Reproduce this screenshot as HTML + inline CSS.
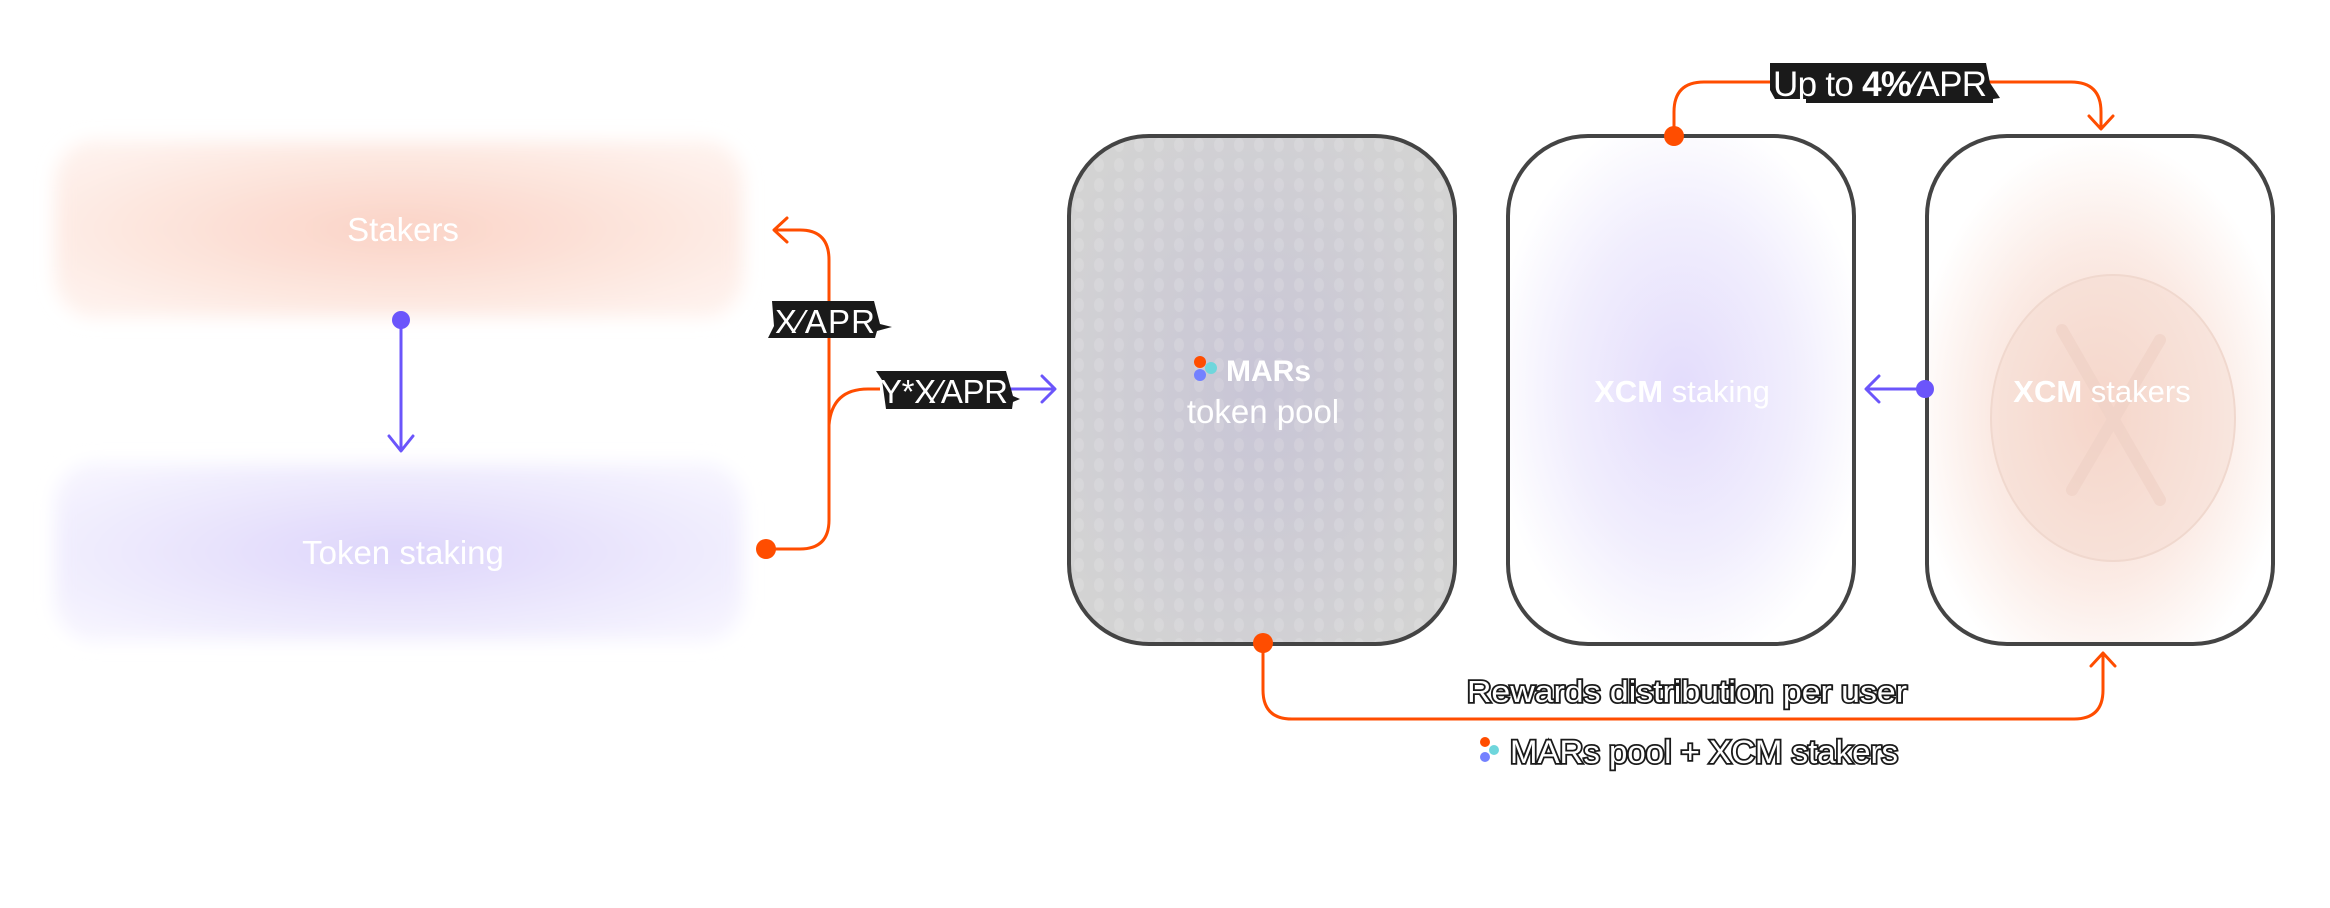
<!DOCTYPE html>
<html><head><meta charset="utf-8"><style>
html,body{margin:0;padding:0;background:#fff;}
svg{display:block;font-family:"Liberation Sans",sans-serif;}
</style></head><body>
<svg width="2330" height="908" viewBox="0 0 2330 908" xmlns="http://www.w3.org/2000/svg">
<defs>
<filter id="blur" x="-20%" y="-40%" width="140%" height="180%"><feGaussianBlur stdDeviation="9"/></filter>
<radialGradient id="gO" cx="50%" cy="50%" r="60%"><stop offset="0" stop-color="#fbd3c6"/><stop offset="1" stop-color="#fef1ec"/></radialGradient>
<radialGradient id="gP" cx="50%" cy="50%" r="60%"><stop offset="0" stop-color="#ddd5fb"/><stop offset="1" stop-color="#f5f3fe"/></radialGradient>
<radialGradient id="gB2" cx="50%" cy="50%" r="55%"><stop offset="0" stop-color="#e3dcfc"/><stop offset="0.6" stop-color="#f1eefd"/><stop offset="1" stop-color="#ffffff"/></radialGradient>
<radialGradient id="gB3" cx="50%" cy="55%" r="55%"><stop offset="0" stop-color="#f6d3c6"/><stop offset="0.6" stop-color="#fbebe5"/><stop offset="1" stop-color="#ffffff"/></radialGradient>
<radialGradient id="gB1" cx="50%" cy="50%" r="60%"><stop offset="0" stop-color="#c8c5d6"/><stop offset="1" stop-color="#d3d3d3"/></radialGradient>
<pattern id="dots" x="1069" y="135" width="20" height="20" patternUnits="userSpaceOnUse"><ellipse cx="10" cy="10" rx="5" ry="7" fill="#ffffff" fill-opacity="0.13"/></pattern>
<clipPath id="c1"><rect x="1069" y="136" width="386" height="508" rx="80"/></clipPath>
</defs>

<rect x="55" y="141" width="688" height="176" rx="40" fill="url(#gO)" filter="url(#blur)"/>
<rect x="55" y="464" width="688" height="176" rx="40" fill="url(#gP)" filter="url(#blur)"/>
<text x="403" y="241" font-size="33" fill="#fff" text-anchor="middle">Stakers</text>
<text x="403" y="564" font-size="33" fill="#fff" text-anchor="middle">Token staking</text>

<line x1="401" y1="320" x2="401" y2="449" stroke="#6b55fb" stroke-width="3"/>
<circle cx="401" cy="320" r="9" fill="#6b55fb"/>
<polyline points="389,436 401,451 413,436" fill="none" stroke="#6b55fb" stroke-width="3" stroke-linecap="round" stroke-linejoin="round"/>

<path d="M766,549 H800 Q829,549 829,520 V260 Q829,230 800,230 H774" fill="none" stroke="#ff4d00" stroke-width="3"/>
<polyline points="787,218 774,230 787,242" fill="none" stroke="#ff4d00" stroke-width="3" stroke-linecap="round" stroke-linejoin="round"/>
<circle cx="766" cy="549" r="10" fill="#ff4d00"/>
<path d="M829,425 Q832,389 868,389 H880" fill="none" stroke="#ff4d00" stroke-width="3"/>
<line x1="1000" y1="389" x2="1054" y2="389" stroke="#6b55fb" stroke-width="3"/>
<polyline points="1042,376 1055,389 1042,402" fill="none" stroke="#6b55fb" stroke-width="3" stroke-linecap="round" stroke-linejoin="round"/>

<polygon points="772,301 874,301 880,324 892,327 877,331 875,338 768,338 774,326" fill="#1a1a1a"/>
<text x="775" y="333" font-size="33" fill="#fff" textLength="100">X⁄APR</text>
<polygon points="876,371 1006,371 1013,396 1020,399 1013,402 1012,409 886,409 882,380" fill="#1a1a1a"/>
<text x="880" y="403" font-size="33" fill="#fff" textLength="128">Y*X⁄APR</text>

<rect x="1069" y="136" width="386" height="508" rx="80" fill="url(#gB1)"/>
<rect x="1069" y="136" width="386" height="508" fill="url(#dots)" clip-path="url(#c1)"/>
<rect x="1069" y="136" width="386" height="508" rx="80" fill="none" stroke="#444" stroke-width="4"/>
<circle cx="1200" cy="362" r="6" fill="#ff4d00"/>
<circle cx="1211" cy="368" r="6" fill="#6fd6dc"/>
<circle cx="1200" cy="375" r="6" fill="#7381ff"/>
<text x="1226" y="381" font-size="30" fill="#fff" font-weight="bold">MARs</text>
<text x="1263" y="423" font-size="33" fill="#fff" text-anchor="middle">token pool</text>

<rect x="1508" y="136" width="346" height="508" rx="80" fill="url(#gB2)" stroke="#444" stroke-width="4"/>
<text x="1682" y="402" font-size="31" fill="#fff" text-anchor="middle"><tspan font-weight="bold">XCM</tspan> staking</text>

<rect x="1927" y="136" width="346" height="508" rx="80" fill="url(#gB3)" stroke="#444" stroke-width="4"/>
<ellipse cx="2113" cy="418" rx="122" ry="143" fill="#f3d9cf" fill-opacity="0.45" stroke="#f0d8ce" stroke-width="2"/>
<path d="M2062,330 L2160,500 M2160,340 L2072,490" stroke="#f0d2c6" stroke-width="12" fill="none" stroke-linecap="round" opacity="0.7"/>
<text x="2102" y="402" font-size="31" fill="#fff" text-anchor="middle"><tspan font-weight="bold">XCM</tspan> stakers</text>

<line x1="1866" y1="389" x2="1925" y2="389" stroke="#6b55fb" stroke-width="3"/>
<circle cx="1925" cy="389" r="9" fill="#6b55fb"/>
<polyline points="1879,376 1866,389 1879,402" fill="none" stroke="#6b55fb" stroke-width="3" stroke-linecap="round" stroke-linejoin="round"/>

<path d="M1674,136 V112 Q1674,82 1704,82 H2071 Q2101,82 2101,112 V128" fill="none" stroke="#ff4d00" stroke-width="3"/>
<polyline points="2089,116 2101,129 2113,116" fill="none" stroke="#ff4d00" stroke-width="3" stroke-linecap="round" stroke-linejoin="round"/>
<circle cx="1674" cy="136" r="10" fill="#ff4d00"/>
<polygon points="1770,63 1986,63 1990,83 2000,98 1993,99 1993,103 1806,103 1806,99 1775,99 1770,90" fill="#1a1a1a"/>
<text x="1773" y="96" font-size="35" fill="#fff" textLength="214"><tspan>Up to </tspan><tspan font-weight="bold">4%</tspan><tspan>⁄APR</tspan></text>

<path d="M1263,643 V690 Q1263,719 1292,719 H2074 Q2103,719 2103,690 V654" fill="none" stroke="#ff4d00" stroke-width="3"/>
<polyline points="2091,666 2103,653 2115,666" fill="none" stroke="#ff4d00" stroke-width="3" stroke-linecap="round" stroke-linejoin="round"/>
<circle cx="1263" cy="643" r="10" fill="#ff4d00"/>
<text x="1467" y="702" font-size="31" fill="#fff" stroke="#1a1a1a" stroke-width="3.5" paint-order="stroke" textLength="440" lengthAdjust="spacingAndGlyphs">Rewards distribution per user</text>
<circle cx="1485" cy="742" r="5" fill="#ff4d00"/>
<circle cx="1494" cy="750" r="5" fill="#6fd6dc"/>
<circle cx="1485" cy="757" r="5" fill="#7381ff"/>
<text x="1510" y="763" font-size="32" fill="#fff" stroke="#1a1a1a" stroke-width="3.5" paint-order="stroke" textLength="388" lengthAdjust="spacingAndGlyphs">MARs pool + XCM stakers</text>
</svg>
</body></html>
